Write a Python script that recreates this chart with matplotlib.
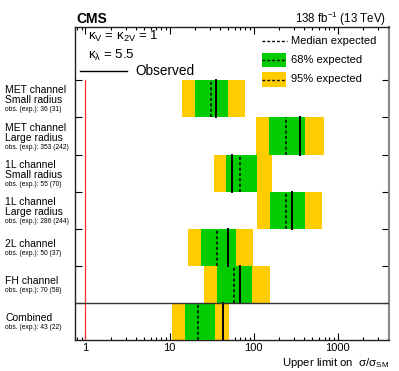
import matplotlib
matplotlib.use("Agg")
import matplotlib.pyplot as plt
import matplotlib.transforms as mtransforms
from matplotlib.patches import Rectangle
from matplotlib.lines import Line2D
from matplotlib.ticker import LogLocator, NullFormatter, FixedLocator

plt.rcParams['font.family'] = ['Liberation Sans', 'DejaVu Sans']
plt.rcParams['mathtext.fontset'] = 'custom'
plt.rcParams['mathtext.rm'] = 'Liberation Sans'
plt.rcParams['mathtext.it'] = 'Liberation Sans:italic'
plt.rcParams['mathtext.bf'] = 'Liberation Sans:bold'

# ---- data (top row first) ----
channels = ["MET channel\nSmall radius", "MET channel\nLarge radius",
            "1L channel\nSmall radius", "1L channel\nLarge radius",
            "2L channel", "FH channel", "Combined"]
observed = [36, 353, 55, 286, 50, 70, 43]
expected = [31, 242, 70, 244, 37, 58, 22]
lo68 = [20.0, 152, 46.8, 158, 23.8, 36.3, 15.2]
hi68 = [49.9, 411, 110, 411, 61.1, 96.2, 34.6]
lo95 = [14.1, 105.7, 33.4, 110, 16.5, 25.8, 10.7]
hi95 = [78.2, 681, 166, 650, 98.6, 159, 51.2]
obs_labels = ["36", "353", "55", "286", "50", "70", "43"]
exp_labels = ["31", "242", "70", "244", "37", "58", "22"]

W, H = 399, 371
fig = plt.figure(figsize=(W / 100, H / 100), dpi=100)
ax = fig.add_axes([75 / W, 1 - 340 / H, (389 - 75) / W, (340 - 27) / H])

GREEN = '#00CC00'
YELLOW = '#FFCC00'
n = len(channels)
ymax = 8.44

for i in range(n):
    y0 = n - 1 - i  # bottom of row
    ax.add_patch(Rectangle((lo95[i], y0), hi95[i] - lo95[i], 1,
                           facecolor=YELLOW, edgecolor='none', zorder=2))
    ax.add_patch(Rectangle((lo68[i], y0), hi68[i] - lo68[i], 1,
                           facecolor=GREEN, edgecolor='none', zorder=3))
    ax.plot([expected[i]] * 2, [y0, y0 + 1], color='black', lw=1.1,
            ls=(0, (2, 1.5)), zorder=4)
    ax.plot([observed[i]] * 2, [y0, y0 + 1], color='black', lw=1.4,
            ls='-', zorder=5)

# SM reference line and separator
ax.plot([1, 1], [0, n], color='#FF3030', lw=0.9, zorder=6)
ax.axhline(1, color='#333333', lw=1.0, zorder=6)

ax.set_xscale('log')
ax.set_xlim(0.75, 4100)
ax.set_ylim(0, ymax)

ax.xaxis.set_major_locator(FixedLocator([1, 10, 100, 1000]))
ax.set_xticklabels(["1", "10", "100", "1000"])
ax.xaxis.set_minor_locator(LogLocator(base=10, subs=range(2, 10), numticks=20))
ax.xaxis.set_minor_formatter(NullFormatter())
ax.tick_params(axis='x', which='major', direction='in', length=5, width=0.8,
               top=True, bottom=True, labelsize=8, pad=2)
ax.tick_params(axis='x', which='minor', direction='in', length=2.5, width=0.8,
               top=True, bottom=True)
ax.set_yticks(list(range(1, n + 1)))
ax.set_yticklabels([])
ax.tick_params(axis='y', which='major', direction='in', length=5, width=0.8,
               left=True, right=True)
ax.tick_params(axis='y', which='minor', left=False, right=False)
for s in ['left', 'bottom', 'top']:
    ax.spines[s].set_color('#222222')
    ax.spines[s].set_linewidth(1.0)
ax.spines['right'].set_color('#888888')
ax.spines['right'].set_linewidth(1.5)

# channel labels on the left
blend = mtransforms.blended_transform_factory(fig.transFigure, ax.transData)
for i in range(n):
    yc = n - 1 - i + 0.5
    lines = channels[i].split("\n")
    first = -3.5 - 5 * (len(lines) - 1)
    for k, ln in enumerate(lines):
        off = first + 10 * k
        ax.annotate(ln, xy=(5 / W, yc), xycoords=blend,
                    xytext=(0, -off * 0.72), textcoords='offset points',
                    ha='left', va='center', fontsize=7.5, annotation_clip=False)
    off = first + 10 * (len(lines) - 1) + 9.5
    ax.annotate(f"obs. (exp.): {obs_labels[i]} ({exp_labels[i]})",
                xy=(5 / W, yc), xycoords=blend,
                xytext=(0, -off * 0.72), textcoords='offset points',
                ha='left', va='center', fontsize=4.8, annotation_clip=False)

def fx(px):
    return px / W

def fy(py):
    return 1 - py / H

# header
fig.text(fx(76), fy(23), "CMS", fontsize=10, fontweight='bold',
         ha='left', va='baseline')
fig.text(fx(386), fy(23), r"138 fb$^{-1}$ (13 TeV)", fontsize=8.3,
         ha='right', va='baseline')

# model text
fig.text(fx(88), fy(36), r"κ$_\mathrm{V}$ = κ$_\mathrm{2V}$ = 1", fontsize=9.5,
         ha='left', va='center')
fig.text(fx(88), fy(55), r"κ$_\mathrm{λ}$ = 5.5", fontsize=9.5,
         ha='left', va='center')
fig.add_artist(Line2D([fx(80), fx(127)], [fy(70.5), fy(70.5)],
                      color='black', lw=1.0, transform=fig.transFigure))
fig.text(fx(135), fy(71), "Observed", fontsize=9.8, ha='left', va='center')

# legend on the right
fig.add_artist(Line2D([fx(262), fx(287)], [fy(41), fy(41)], color='black',
                      lw=1.0, ls=(0, (2, 1.5)), transform=fig.transFigure))
fig.text(fx(291), fy(41), "Median expected", fontsize=8, ha='left', va='center')
for (ytop, ybot, col, lab) in [(52.7, 66.7, GREEN, "68% expected"),
                               (72.3, 86.7, YELLOW, "95% expected")]:
    fig.add_artist(Rectangle((fx(261.7), fy(ybot)), fx(286) - fx(261.7),
                             fy(ytop) - fy(ybot), facecolor=col,
                             edgecolor='none', transform=fig.transFigure))
    ym = (ytop + ybot) / 2
    fig.add_artist(Line2D([fx(262), fx(286)], [fy(ym), fy(ym)], color='black',
                          lw=1.0, ls=(0, (2, 1.5)), transform=fig.transFigure))
    fig.text(fx(291), fy(ym), lab, fontsize=8, ha='left', va='center')

# x label
fig.text(fx(389), fy(362.5), r"Upper limit on  σ/σ$_\mathrm{SM}$", fontsize=8.2,
         ha='right', va='center')

fig.savefig("out.png", dpi=100)
